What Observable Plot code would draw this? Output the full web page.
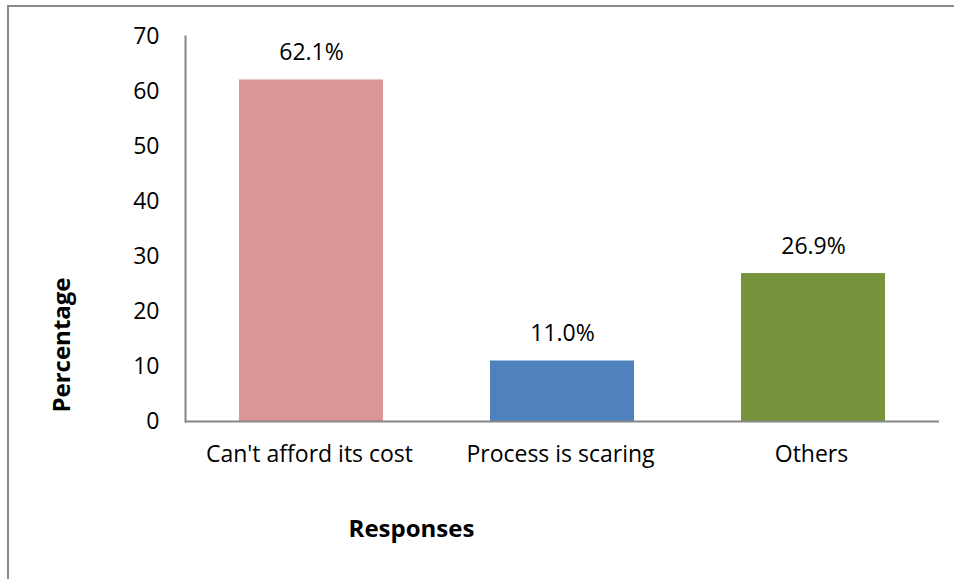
<!DOCTYPE html>
<html>
<head>
<meta charset="utf-8">
<script src="https://cdn.jsdelivr.net/npm/d3@7"></script>
<script src="https://cdn.jsdelivr.net/npm/@observablehq/plot@0.6"></script>
<style>
  html, body { margin: 0; padding: 0; background: #fff; }
  #wrap { position: relative; width: 954px; height: 579px; overflow: hidden; background: #fff; }
  #border { position: absolute; left: 7px; top: 5px; width: 1000px; height: 700px;
            border-left: 2px solid #8a8a8a; border-top: 2px solid #8a8a8a; pointer-events: none; }
  #wrap svg { position: absolute; left: 0; top: 0; }
</style>
</head>
<body>
<div id="wrap"><div id="border"></div></div>
<script>
const categories = ["Can't afford its cost", "Process is scaring", "Others"];
const values = [62.1, 11.0, 26.9];
const barColors = ["#D99694", "#4F81BD", "#77933C"];
const yTicks = [0, 10, 20, 30, 40, 50, 60, 70];
const yTitle = "Percentage";
const xTitle = "Responses";

const data = categories.map((c, i) => ({category: c, value: values[i]}));
const font = "'Open Sans', sans-serif";
const axisColor = "#868686";

const chart = Plot.plot({
  width: 954,
  height: 579,
  marginLeft: 185,
  marginRight: 15,
  marginTop: 36,
  marginBottom: 158,
  style: {fontFamily: font, fontSize: "23px", color: "#000", background: "transparent"},
  x: {domain: categories, paddingInner: 0.427, paddingOuter: 0.2135, label: null},
  y: {domain: [0, 70], label: null},
  color: {domain: categories, range: barColors},
  marks: [
    Plot.barY(data, {x: "category", y: "value", fill: "category"}),
    Plot.ruleY([0], {stroke: axisColor, strokeWidth: 2}),
    Plot.frame({anchor: "left", stroke: axisColor, strokeWidth: 2}),
    Plot.axisY(yTicks, {tickSize: 0, tickPadding: 26, fontSize: 23, fill: "#000", label: null}),
    Plot.axisX({tickSize: 0, tickPadding: 24, fontSize: 23, fill: "#000", label: null, dx: -2}),
    Plot.text(data, {x: "category", y: "value", text: d => d.value.toFixed(1) + "%",
      dy: -27, fontSize: 23, fill: "#000", lineAnchor: "middle"}),
    Plot.text([yTitle], {frameAnchor: "left", textAnchor: "middle", lineAnchor: "middle",
      rotate: -90, dx: -123, dy: 116, fontSize: 24, fontWeight: "bold", fill: "#000"}),
    Plot.text([xTitle], {frameAnchor: "bottom", textAnchor: "middle", lineAnchor: "middle",
      dx: -151, dy: 108, fontSize: 24, fontWeight: "bold", fill: "#000"})
  ]
});
document.getElementById("wrap").insertBefore(chart, document.getElementById("border"));
</script>
</body>
</html>
